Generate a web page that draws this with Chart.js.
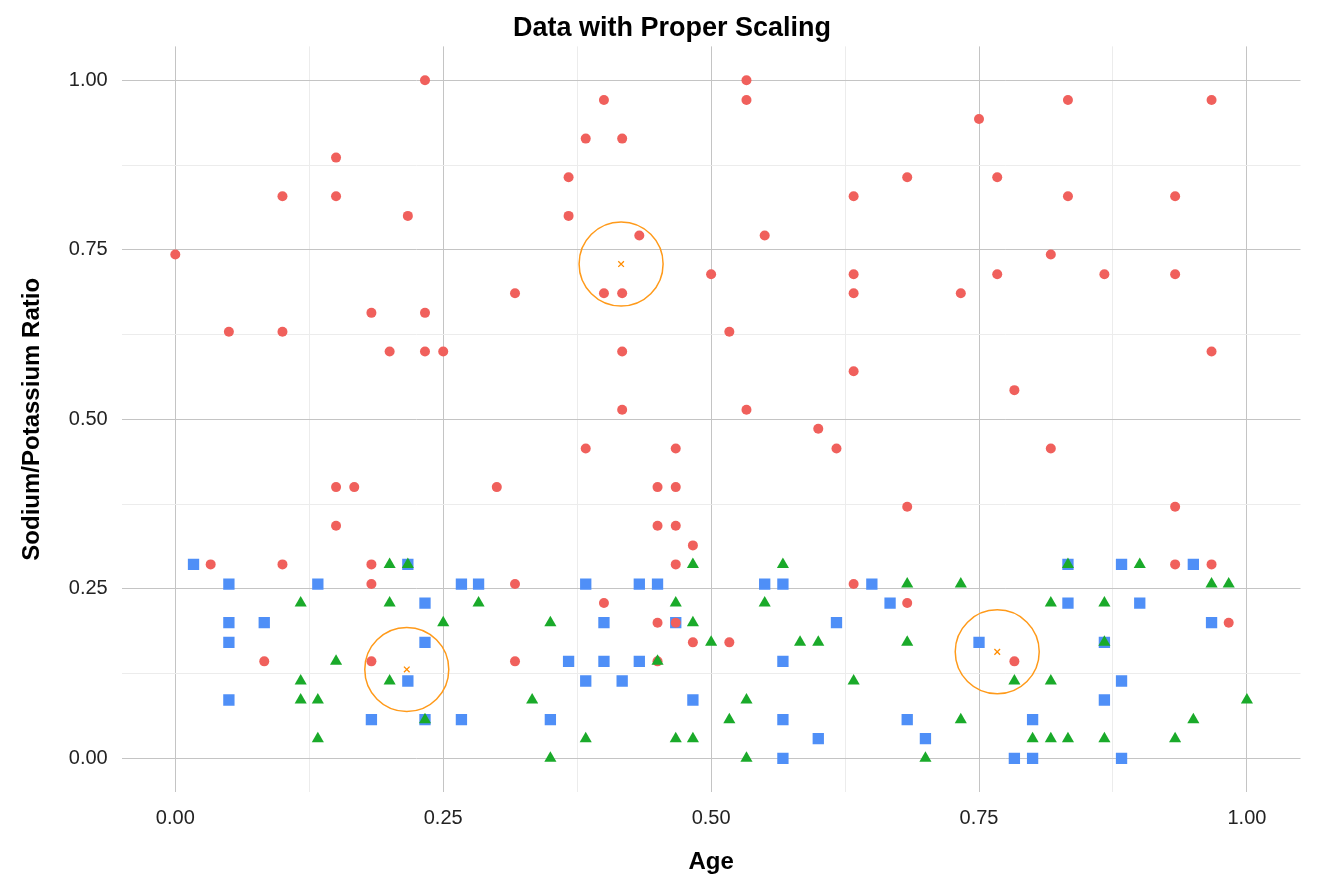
<!DOCTYPE html>
<html>
<head>
<meta charset="utf-8">
<script src="https://cdn.jsdelivr.net/npm/chart.js@4.4.1/dist/chart.umd.min.js"></script>
<style>
  html, body { margin: 0; padding: 0; background: #fff; }
  #wrap { width: 1344px; height: 895px; }
</style>
</head>
<body>
<div id="wrap"><canvas id="chart"></canvas></div>
<script>
// Group A (red circles)
const redAge = [0, .05, .1, .1, .15, .15, .15, .167, .183, .2, .217, .233, .233, .233, .25, .3, .317,
  .367, .367, .383, .383, .4, .4, .417, .417, .417, .417, .433, .45, .467, .467,
  .5, .517, .533, .533, .533, .55, .6, .617, .683, .633, .633, .633, .633,
  .767, .733, .75, .767, .783, .817, .817, .833, .833, .867, .933, .933, .933, .967, .967,
  .033, .1, .183, .15, .183, .183, .317, .317, .083,
  .45, .467, .483, .467, .45, .467, .45, .483, .517, .4, .633, .683, .683, .783, .933, .967, .983];
const redRatio = [.743, .629, .829, .629, .886, .829, .4, .4, .657, .6, .8, 1, .657, .6, .6, .4, .686,
  .857, .8, .914, .457, .971, .686, .914, .686, .6, .514, .771, .4, .457, .4,
  .714, .629, 1, .971, .514, .771, .486, .457, .857, .829, .714, .686, .571,
  .857, .686, .943, .714, .543, .743, .457, .971, .829, .714, .829, .714, .371, .971, .6,
  .286, .286, .286, .343, .257, .143, .257, .143, .143,
  .343, .343, .314, .286, .2, .2, .143, .171, .171, .229, .257, .229, .371, .143, .286, .286, .2];
// Group B (blue squares)
const blueAge = [.017, .05, .133, .217, .267, .283, .233, .05, .083, .05, .233, .217, .05, .183, .233, .267,
  .383, .433, .45, .55, .567, .65, .667, .4, .467, .617, .367, .4, .433, .567, .383, .417, .483, .35,
  .567, .6, .567, .833, .883, .95, .833, .9, .967, .75, .867, .883, .867, .683, .8, .7, .783, .8, .883];
const blueRatio = [.286, .257, .257, .286, .257, .257, .229, .2, .2, .171, .171, .114, .086, .057, .057, .057,
  .257, .257, .257, .257, .257, .257, .229, .2, .2, .2, .143, .143, .143, .143, .114, .114, .086, .057,
  .057, .029, 0, .286, .286, .286, .229, .229, .2, .171, .171, .114, .086, .057, .057, .029, 0, 0, 0];
// Group C (green triangles)
const greenAge = [.2, .217, .117, .2, .283, .25, .15, .117, .2, .117, .133, .233, .133,
  .483, .567, .467, .55, .35, .483, .5, .583, .6, .45, .633, .333, .533, .517, .383, .467, .483, .35, .533,
  .833, .9, .683, .733, .967, .983, .817, .867, .683, .867, .783, .817, 1, .733, .95, .8, .817, .833, .867, .933, .7];
const greenRatio = [.286, .286, .229, .229, .229, .2, .143, .114, .114, .086, .086, .057, .029,
  .286, .286, .229, .229, .2, .2, .171, .171, .171, .143, .114, .086, .086, .057, .029, .029, .029, 0, 0,
  .286, .286, .257, .257, .257, .257, .229, .229, .171, .171, .114, .114, .086, .057, .057, .029, .029, .029, .029, .029, 0];
// Cluster centres
const centreAge = [.216, .416, .767];
const centreRatio = [.131, .729, .157];

const tickValues = [0, .125, .25, .375, .5, .625, .75, .875, 1];

const pts = (xs, ys) => xs.map((x, i) => ({ x: x, y: ys[i] }));
const centres = pts(centreAge, centreRatio);

const isMajor = v => Math.abs(v * 4 - Math.round(v * 4)) < 1e-6;
const gridColor = ctx => isMajor(ctx.tick.value) ? "#c4c4c4" : "#ececec";
const tickLabel = v => isMajor(v) ? v.toFixed(2) : "";

new Chart(document.getElementById("chart").getContext("2d"), {
  type: "scatter",
  data: {
    datasets: [
      { data: centres, pointStyle: "circle", pointRadius: 42, backgroundColor: "rgba(0,0,0,0)",
        borderColor: "#ff9a1a", borderWidth: 1.5, order: 0 },
      { data: centres, pointStyle: "crossRot", pointRadius: 4, borderColor: "#ff8c00", borderWidth: 1.3, order: 0 },
      { data: pts(greenAge, greenRatio), pointStyle: "triangle", pointRadius: 7, backgroundColor: "#1aaa2a",
        borderColor: "#1aaa2a", borderWidth: 0, order: 1 },
      { data: pts(redAge, redRatio), pointStyle: "circle", pointRadius: 5, backgroundColor: "#f0605c",
        borderColor: "#f0605c", borderWidth: 0, order: 2 },
      { data: pts(blueAge, blueRatio), pointStyle: "rect", pointRadius: 8, backgroundColor: "#4f8ff7",
        borderColor: "#4f8ff7", borderWidth: 0, order: 3 },
    ],
  },
  options: {
    responsive: true,
    maintainAspectRatio: false,
    animation: false,
    layout: { padding: { top: 10, right: 14, bottom: 14, left: 14 } },
    plugins: {
      legend: { display: false },
      tooltip: { enabled: false },
      title: { display: true, text: "Data with Proper Scaling", color: "#000",
        font: { family: "Liberation Sans", size: 27, weight: "bold" }, padding: { top: 2, bottom: 2 } },
    },
    scales: {
      x: {
        min: -0.05, max: 1.05,
        afterBuildTicks: axis => { axis.ticks = tickValues.map(v => ({ value: v })); },
        ticks: { callback: tickLabel, color: "#222", font: { family: "Liberation Sans", size: 20 }, maxRotation: 0, autoSkip: false, padding: 14 },
        grid: { color: gridColor, drawTicks: false },
        border: { display: false },
        title: { display: true, text: "Age", color: "#000", font: { family: "Liberation Sans", size: 24, weight: "bold" }, padding: { top: 4 } },
      },
      y: {
        min: -0.05, max: 1.05,
        afterBuildTicks: axis => { axis.ticks = tickValues.map(v => ({ value: v })); },
        ticks: { callback: tickLabel, color: "#222", font: { family: "Liberation Sans", size: 20 }, padding: 14, autoSkip: false },
        grid: { color: gridColor, drawTicks: false },
        border: { display: false },
        title: { display: true, text: "Sodium/Potassium Ratio", color: "#000", font: { family: "Liberation Sans", size: 24, weight: "bold" }, padding: { bottom: 8 } },
      },
    },
  },
});
</script>
</body>
</html>
